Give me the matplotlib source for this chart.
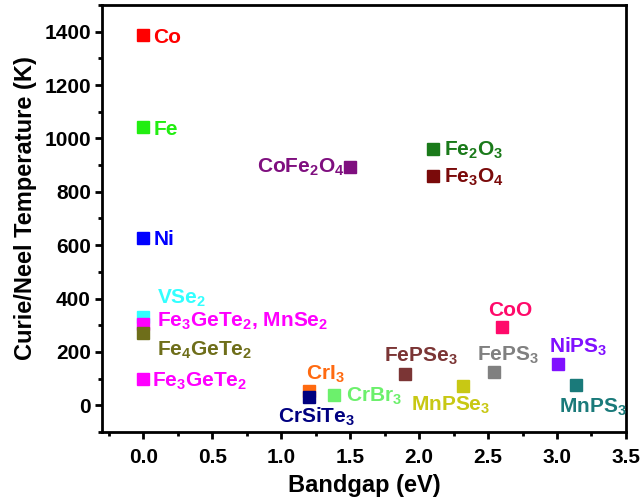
import matplotlib
matplotlib.use("Agg")
import matplotlib.pyplot as plt
from matplotlib.ticker import MultipleLocator

plt.rcParams['font.family'] = ['Liberation Sans', 'DejaVu Sans']
plt.rcParams['font.weight'] = 'bold'
plt.rcParams['mathtext.fontset'] = 'custom'
plt.rcParams['mathtext.rm'] = 'Liberation Sans:bold'
plt.rcParams['mathtext.bf'] = 'Liberation Sans:bold'
plt.rcParams['mathtext.it'] = 'Liberation Sans:bold'
plt.rcParams['mathtext.default'] = 'bf'

# Data
materials = ['Co', 'Fe', 'Ni', 'VSe2', 'Fe3GeTe2, MnSe2', 'Fe4GeTe2', 'Fe3GeTe2',
             'CrI3', 'CrSiTe3', 'CrBr3', 'FePSe3', 'MnPSe3', 'FePS3', 'CoO',
             'NiPS3', 'MnPS3', 'CoFe2O4', 'Fe2O3', 'Fe3O4']
labels = ['Co', 'Fe', 'Ni', r'VSe$_2$', r'Fe$_3$GeTe$_2$, MnSe$_2$', r'Fe$_4$GeTe$_2$',
          r'Fe$_3$GeTe$_2$', r'CrI$_3$', r'CrSiTe$_3$', r'CrBr$_3$', r'FePSe$_3$',
          r'MnPSe$_3$', r'FePS$_3$', 'CoO', r'NiPS$_3$', r'MnPS$_3$',
          r'CoFe$_2$O$_4$', r'Fe$_2$O$_3$', r'Fe$_3$O$_4$']
bandgap = [0.0, 0.0, 0.0, 0.0, 0.0, 0.0, 0.0,
           1.2, 1.2, 1.38, 1.9, 2.32, 2.54, 2.6,
           3.01, 3.14, 1.5, 2.1, 2.1]
temperature = [1388, 1043, 627, 330, 305, 270, 100,
               55, 33, 37, 119, 74, 123, 295,
               153, 76, 893, 960, 858]
colors = ['#FF0000', '#22EE11', '#0000FF', '#33FFFF', '#FF00FF', '#6E6E1A', '#FF00FF',
          '#FF6A10', '#000080', '#6CF06C', '#7B3535', '#C8C814', '#808080', '#FF0A6A',
          '#8010FF', '#1A7A7A', '#7F0F7F', '#1A7A1A', '#7A0A0A']

# label offsets in pixels (dx, dy) and horizontal alignment
offsets = [(10, -8), (10, -8.5), (10, -7), (14, 14), (14, -3), (14, -22), (9, -8.5),
           (-3, 11), (-31, -26), (12.5, -6.5), (-21.5, 12), (-52, -25.5), (-17, 11.5),
           (-14, 11), (-9, 11.5), (-17, -28), (-6, -5.5), (11.5, -6.5), (11.5, -6)]
aligns = ['left'] * 16 + ['right', 'left', 'left']

fig = plt.figure(figsize=(6.42, 5.0), dpi=100)
ax = fig.add_axes([0.159, 0.136, 0.816, 0.854])

for x, y, c in zip(bandgap, temperature, colors):
    ax.plot(x, y, marker='s', markersize=8, color=c, linestyle='none')

for x, y, lab, c, (dx, dy), ha in zip(bandgap, temperature, labels, colors, offsets, aligns):
    ax.annotate(lab, xy=(x, y), xytext=(dx, dy), textcoords='offset pixels',
                ha=ha, va='baseline', color=c, fontsize=15, fontweight='bold')

ax.set_xlim(-0.3, 3.5)
ax.set_ylim(-100, 1500)
ax.xaxis.set_minor_locator(MultipleLocator(0.25))
ax.yaxis.set_minor_locator(MultipleLocator(100))
ax.set_yticks(range(0, 1401, 200))
ax.set_xticks([0.0, 0.5, 1.0, 1.5, 2.0, 2.5, 3.0, 3.5])
ax.set_xticklabels(['0.0', '0.5', '1.0', '1.5', '2.0', '2.5', '3.0', '3.5'])

for s in ax.spines.values():
    s.set_linewidth(2.0)
ax.tick_params(axis='x', which='major', direction='out', length=5, width=2, labelsize=15, pad=6.5)
ax.tick_params(axis='y', which='major', direction='out', length=5, width=2, labelsize=15, pad=3)
ax.tick_params(which='minor', direction='out', length=3, width=2)
for lab in ax.get_xticklabels() + ax.get_yticklabels():
    lab.set_fontweight('bold')

ax.set_xlabel('Bandgap (eV)', fontsize=17, fontweight='bold', labelpad=5)
ax.set_ylabel('Curie/Neel Temperature (K)', fontsize=17, fontweight='bold')
ax.yaxis.set_label_coords(-0.124, 0.525)

fig.savefig('out.png', dpi=100)
